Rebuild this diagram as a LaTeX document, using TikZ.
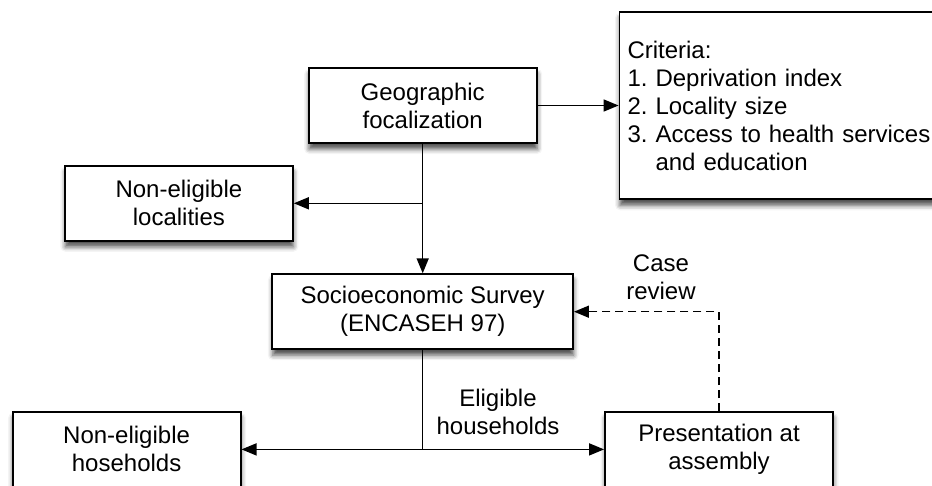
\documentclass[tikz,border=0pt]{standalone}
\usepackage{fontspec}
\setmainfont{Liberation Sans}
\usetikzlibrary{positioning,arrows.meta,shadows.blur}

\begin{document}
\begin{tikzpicture}[>={Triangle[width=12pt,length=15pt]}, every node/.style={font=\fontsize{24}{28}\selectfont\frenchspacing}, box/.style={draw, line width=1.8pt, fill=white, align=center, minimum width=228pt, minimum height=75pt, inner sep=4pt, blur shadow={shadow xshift=0.5pt, shadow yshift=-6pt, shadow blur radius=5pt, shadow opacity=70}}, lbl/.style={align=center, inner sep=0pt}, line width=1.5pt]
	\clip (0pt, 0pt) rectangle (932pt, -486pt);
	\draw (422.7pt, -105.5pt)node[box](geo){Geographic\\focalization};
	\draw (782.0pt, -105.5pt)node[box, align=left, text width=309pt, inner xsep=8pt, minimum height=187.6pt](crit){Criteria:\\1. Deprivation index\\2. Locality size\\3. Access to health services\\\phantom{3. }and education};
	\draw (178.9pt, -203.3pt)node[box](loc){Non-eligible\\localities};
	\draw (422.7pt, -311.7pt)node[box, minimum width=300.7pt](socio){Socioeconomic Survey\\(ENCASEH 97)};
	\draw (126.6pt, -449.4pt)node[box](hh){Non-eligible\\hoseholds};
	\draw (719.0pt, -449.4pt)node[box](pres){Presentation at\\assembly};
	\draw (661.0pt, -277.0pt)node[lbl](case){Case\\review};
	\draw (498.0pt, -411.5pt)node[lbl](elig){Eligible\\households};
	\path[->] (geo) edge (crit);
	\path[->] (geo) edge (socio);
	\path[->] (geo.south |- loc.east) edge (loc);
	\draw (socio) -- (socio.south |- hh.east);
	\draw[<->] (hh) -- (pres);
	\draw[->, dashed, dash pattern=on 8pt off 5pt] (pres.north) |- (socio.east);
	\end{tikzpicture}
\end{document}
